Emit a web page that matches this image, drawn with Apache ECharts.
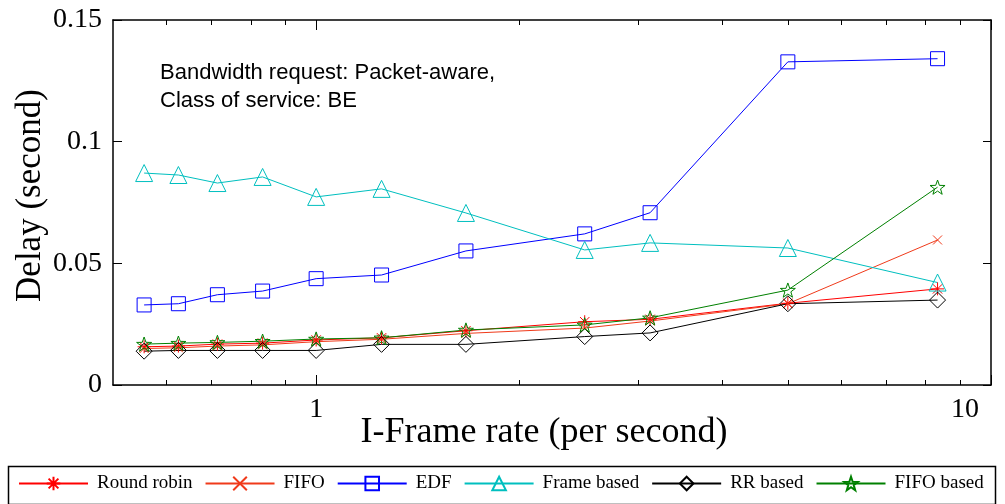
<!DOCTYPE html>
<html>
<head>
<meta charset="utf-8">
<script src="https://cdn.jsdelivr.net/npm/echarts@6/dist/echarts.min.js"></script>
<style>
  html, body { margin: 0; padding: 0; background: #fff; }
  #chart { width: 1005px; height: 504px; }
</style>
</head>
<body>
<div id="chart"></div>
<script>
// I-frame rate (per second) for each run
const iFrameRate = [0.556, 0.625, 0.714, 0.833, 1, 1.25, 1.667, 2.5, 3.125, 5, 8.333];

// Mean delay (second) per scheduler
const roundRobin = [0.0157, 0.0160, 0.0168, 0.0172, 0.0185, 0.0194, 0.0223, 0.0260, 0.0270, 0.0336, 0.0395];
const fifo       = [0.0150, 0.0153, 0.0160, 0.0165, 0.0178, 0.0188, 0.0212, 0.0234, 0.0263, 0.0334, 0.0596];
const edf        = [0.0329, 0.0334, 0.0371, 0.0386, 0.0437, 0.0452, 0.0551, 0.0621, 0.0708, 0.1328, 0.1341];
const frameBased = [0.0871, 0.0863, 0.0830, 0.0855, 0.0773, 0.0806, 0.0707, 0.0555, 0.0584, 0.0563, 0.0421];
const rrBased    = [0.0139, 0.0142, 0.0142, 0.0142, 0.0142, 0.0167, 0.0167, 0.0199, 0.0214, 0.0334, 0.0349];
const fifoBased  = [0.0168, 0.0172, 0.0175, 0.0180, 0.0189, 0.0194, 0.0226, 0.0247, 0.0276, 0.0390, 0.0813];

const seriesNames = ['Round robin', 'FIFO', 'EDF', 'Frame based', 'RR based', 'FIFO based'];

// Axis ticks and labels
const xMinorTicks = [0.6, 0.7, 0.8, 0.9, 2, 3, 4, 5, 6, 7, 8, 9];
const xMajorTicks = [1, 10];
const yTicks = [0, 0.05, 0.1, 0.15];

const SERIF = '"Liberation Serif", "Times New Roman", serif';
const SANS = '"Liberation Sans", Arial, sans-serif';

const ASTERISK = 'path://M0,-1L0,1M-1,0L1,0M-0.72,-0.72L0.72,0.72M-0.72,0.72L0.72,-0.72';
const CROSS = 'path://M-1,-1L1,1M-1,1L1,-1';
const STAR = 'path://M0,-1L0.235,-0.324L0.951,-0.309L0.380,0.124L0.588,0.809L0,0.4L-0.588,0.809L-0.380,0.124L-0.951,-0.309L-0.235,-0.324Z';

function pairs(ys) {
  return iFrameRate.map((x, i) => [x, ys[i]]);
}

function lineSeries(name, ys, color, symbol, size) {
  return {
    name: name,
    type: 'line',
    xAxisIndex: 0,
    yAxisIndex: 0,
    data: pairs(ys),
    symbol: symbol,
    symbolSize: size,
    symbolKeepAspect: true,
    lineStyle: { color: color, width: 1 },
    itemStyle: { color: 'rgba(0,0,0,0)', borderColor: color, borderWidth: 1 },
    emphasis: { disabled: true },
    animation: false
  };
}

const grid = { left: 113, right: 14, top: 20, bottom: 119 };
const axisLineStyle = { color: '#000', width: 1.5 };
const tickLine = { color: '#000', width: 1 };

function logAxis(gridIndex, position, showLine, tickValues, tickLength) {
  return {
    type: 'log', logBase: 10, min: 0.5, max: 10, gridIndex: gridIndex, position: position,
    axisLine: { show: showLine, onZero: false, lineStyle: axisLineStyle },
    axisTick: { show: true, inside: true, length: tickLength, customValues: tickValues, lineStyle: tickLine },
    axisLabel: { show: false },
    splitLine: { show: false }
  };
}

const bottomAxis = logAxis(0, 'bottom', true, xMinorTicks, 5);
bottomAxis.axisLabel = {
  show: true, customValues: xMajorTicks, margin: 11,
  fontFamily: SERIF, fontSize: 28, color: '#000',
  formatter: function (v) { return Math.round(v) === 10 ? '{r|10}' : String(Math.round(v)); },
  rich: { r: { fontFamily: SERIF, fontSize: 28, color: '#000', padding: [0, 52, 0, 0] } }
};
bottomAxis.name = 'I-Frame rate (per second)';
bottomAxis.nameLocation = 'middle';
bottomAxis.nameGap = 30;
bottomAxis.nameMoveOverlap = false;
bottomAxis.nameTextStyle = { fontFamily: SERIF, fontSize: 36, color: '#000', padding: [0, 16, 0, 0] };

const option = {
  backgroundColor: '#fff',
  animation: false,
  grid: [
    Object.assign({}, grid),
    Object.assign({}, grid)
  ],
  xAxis: [
    bottomAxis,
    logAxis(0, 'top', true, xMinorTicks, 5),
    logAxis(1, 'bottom', false, xMajorTicks, 10),
    logAxis(1, 'top', false, xMajorTicks, 10)
  ],
  yAxis: [
    {
      type: 'value', min: 0, max: 0.15, interval: 0.05, gridIndex: 0, position: 'left',
      axisLine: { show: true, onZero: false, lineStyle: axisLineStyle },
      axisTick: { show: true, inside: true, length: 9, customValues: yTicks, lineStyle: tickLine },
      axisLabel: {
        show: true, customValues: yTicks, margin: 11,
        fontFamily: SERIF, fontSize: 28, color: '#000',
        formatter: function (v) { return String(Math.round(v * 100) / 100); }
      },
      splitLine: { show: false },
      name: 'Delay (second)', nameLocation: 'middle', nameGap: 65, nameMoveOverlap: false,
      nameTextStyle: { fontFamily: SERIF, fontSize: 35, color: '#000', padding: [0, 0, 0, 14] }
    },
    {
      type: 'value', min: 0, max: 0.15, interval: 0.05, gridIndex: 0, position: 'right',
      axisLine: { show: true, onZero: false, lineStyle: axisLineStyle },
      axisTick: { show: true, inside: true, length: 8, customValues: yTicks, lineStyle: tickLine },
      axisLabel: { show: false },
      splitLine: { show: false }
    },
    {
      type: 'value', min: 0, max: 0.15, gridIndex: 1, show: false
    }
  ],
  legend: {
    data: seriesNames,
    left: 18, top: 474,
    orient: 'horizontal',
    itemWidth: 69, itemHeight: 17, itemGap: 12,
    padding: 0,
    textStyle: { fontFamily: SERIF, fontSize: 19, color: '#000', padding: [0, 0, 0, 4] },
    selectedMode: false
  },
  graphic: [
    {
      type: 'rect', left: 6, top: 464, silent: true,
      shape: { width: 987, height: 38 },
      style: { fill: 'none', stroke: '#000', lineWidth: 1.5 }
    },
    {
      type: 'text', left: 160, top: 59, silent: true,
      style: {
        text: 'Bandwidth request: Packet-aware,\nClass of service: BE',
        fontFamily: SANS, fontSize: 22, lineHeight: 28, fill: '#000'
      }
    }
  ],
  series: [
    lineSeries(seriesNames[0], roundRobin, '#ff0000', ASTERISK, 13),
    lineSeries(seriesNames[1], fifo, '#f03a1a', CROSS, 9),
    lineSeries(seriesNames[2], edf, '#0000ff', 'rect', 14),
    lineSeries(seriesNames[3], frameBased, '#00bfbf', 'triangle', 17),
    lineSeries(seriesNames[4], rrBased, '#000000', 'diamond', 16),
    lineSeries(seriesNames[5], fifoBased, '#008000', STAR, 15)
  ]
};

const chart = echarts.init(document.getElementById('chart'), null, { renderer: 'canvas' });
chart.setOption(option);
</script>
</body>
</html>
